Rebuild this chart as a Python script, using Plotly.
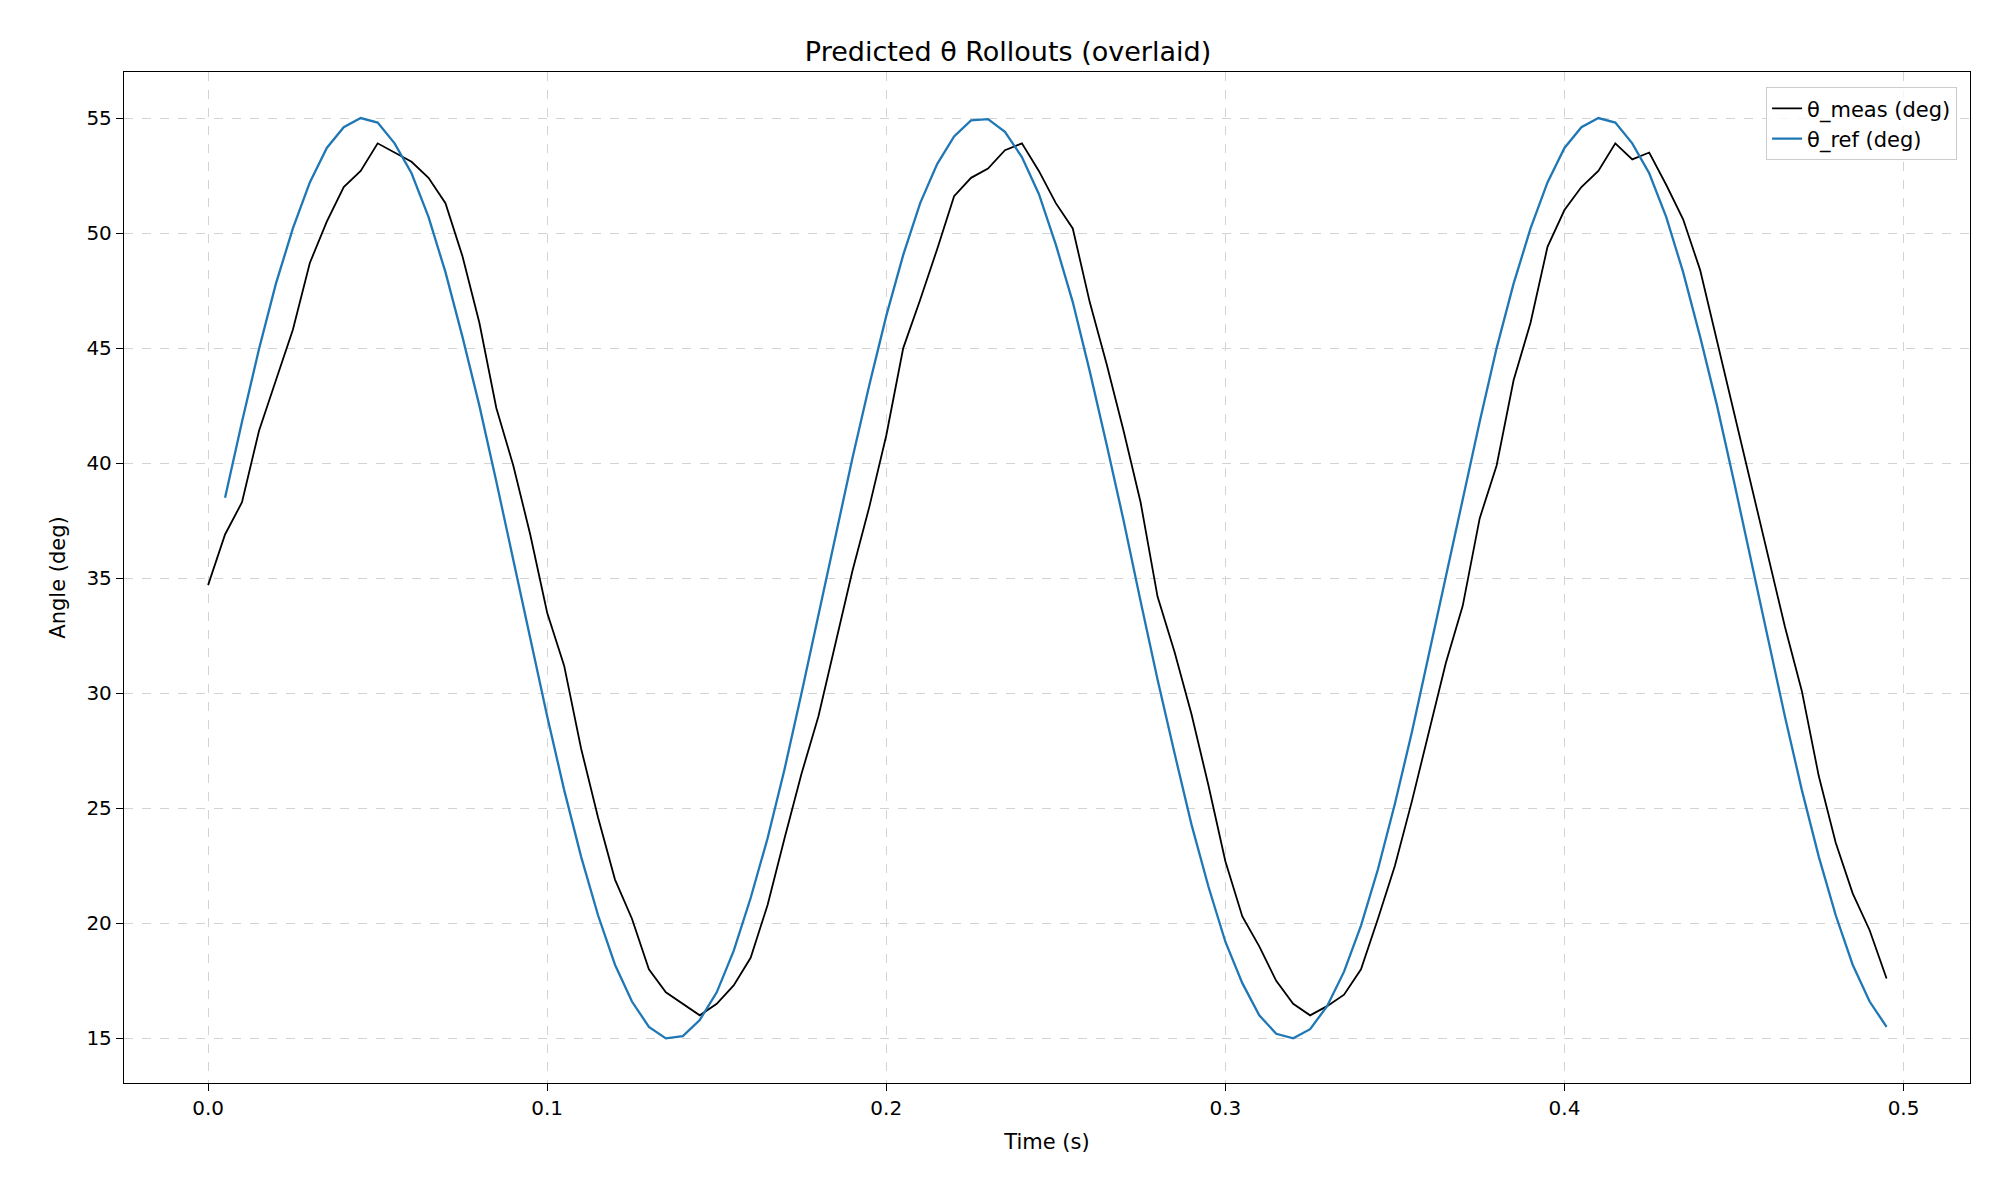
import plotly.graph_objects as go

t_meas = [round(0.005*k, 3) for k in range(100)]
theta_meas = [34.7,36.9,38.3,41.4,43.6,45.8,48.7,50.5,52.0,52.7,53.9,53.5,53.1,52.4,51.3,49.0,46.1,42.4,39.9,36.9,
 33.5,31.2,27.6,24.6,21.9,20.2,18.0,17.0,16.5,16.0,16.5,17.3,18.5,20.8,23.7,26.5,29.0,32.2,35.3,38.1,
 41.2,45.0,47.1,49.3,51.6,52.4,52.8,53.6,53.9,52.7,51.3,50.2,47.0,44.3,41.4,38.3,34.2,31.8,29.1,26.0,
 22.7,20.3,19.0,17.5,16.5,16.0,16.4,16.9,18.0,20.2,22.5,25.3,28.3,31.3,33.8,37.6,39.9,43.6,46.1,49.4,
 51.0,52.0,52.7,53.9,53.2,53.5,52.1,50.6,48.4,45.3,42.1,39.0,36.0,32.9,30.1,26.4,23.5,21.3,19.7,17.6]
t_ref = [round(0.005*k, 3) for k in range(1, 100)]
theta_ref = [38.5,41.8,44.95,47.8,50.2,52.2,53.7,54.6,55.0,54.8,53.9,52.6,50.7,48.3,45.5,42.5,39.2,35.8,32.3,29.0,
 25.8,22.9,20.35,18.2,16.6,15.5,15.0,15.1,15.8,17.0,18.8,21.1,23.7,26.7,30.0,33.4,36.8,40.2,43.4,46.4,
 49.05,51.3,53.0,54.2,54.9,54.95,54.4,53.3,51.7,49.5,47.0,44.0,40.8,37.5,34.0,30.6,27.4,24.3,21.6,19.2,
 17.4,16.0,15.2,15.0,15.4,16.4,17.9,19.9,22.35,25.2,28.3,31.7,35.1,38.5,41.8,45.0,47.8,50.2,52.2,53.7,
 54.6,55.0,54.8,53.9,52.6,50.7,48.3,45.5,42.5,39.2,35.8,32.3,29.0,25.8,22.9,20.35,18.2,16.6,15.5]

fig = go.Figure()
fig.add_trace(go.Scatter(x=t_meas, y=theta_meas, mode="lines", name="θ_meas (deg)",
                         line=dict(color="black", width=1.8)))
fig.add_trace(go.Scatter(x=t_ref, y=theta_ref, mode="lines", name="θ_ref (deg)",
                         line=dict(color="#1f77b4", width=2.3)))
axis = dict(showline=True, linecolor="black", linewidth=1.3, mirror=True, ticks="outside",
            ticklen=7, tickcolor="black", showgrid=True, gridcolor="#d3d3d3", griddash="dash",
            gridwidth=1, zeroline=False, tickfont=dict(size=20, color="black"))
fig.update_layout(
    width=2000, height=1200, plot_bgcolor="white", paper_bgcolor="white",
    font=dict(family="DejaVu Sans", color="black"),
    title=dict(text="Predicted θ Rollouts (overlaid)", x=0.5, xanchor="center", y=0.972,
               font=dict(size=27)),
    margin=dict(l=116, r=38, t=64, b=125),
    xaxis=dict(axis, range=[-0.0248, 0.5196], tickvals=[0,0.1,0.2,0.3,0.4,0.5],
               ticktext=["0.0","0.1","0.2","0.3","0.4","0.5"],
               title=dict(text="Time (s)", font=dict(size=21))),
    yaxis=dict(axis, range=[13.06, 57.0], tickvals=list(range(15, 56, 5)),
               title=dict(text="Angle (deg)", font=dict(size=21))),
    legend=dict(x=0.993, y=0.985, xanchor="right", yanchor="top", bordercolor="#cccccc",
                borderwidth=1, bgcolor="rgba(255,255,255,0.8)", font=dict(size=21)),
)
fig.write_html("out.html")
